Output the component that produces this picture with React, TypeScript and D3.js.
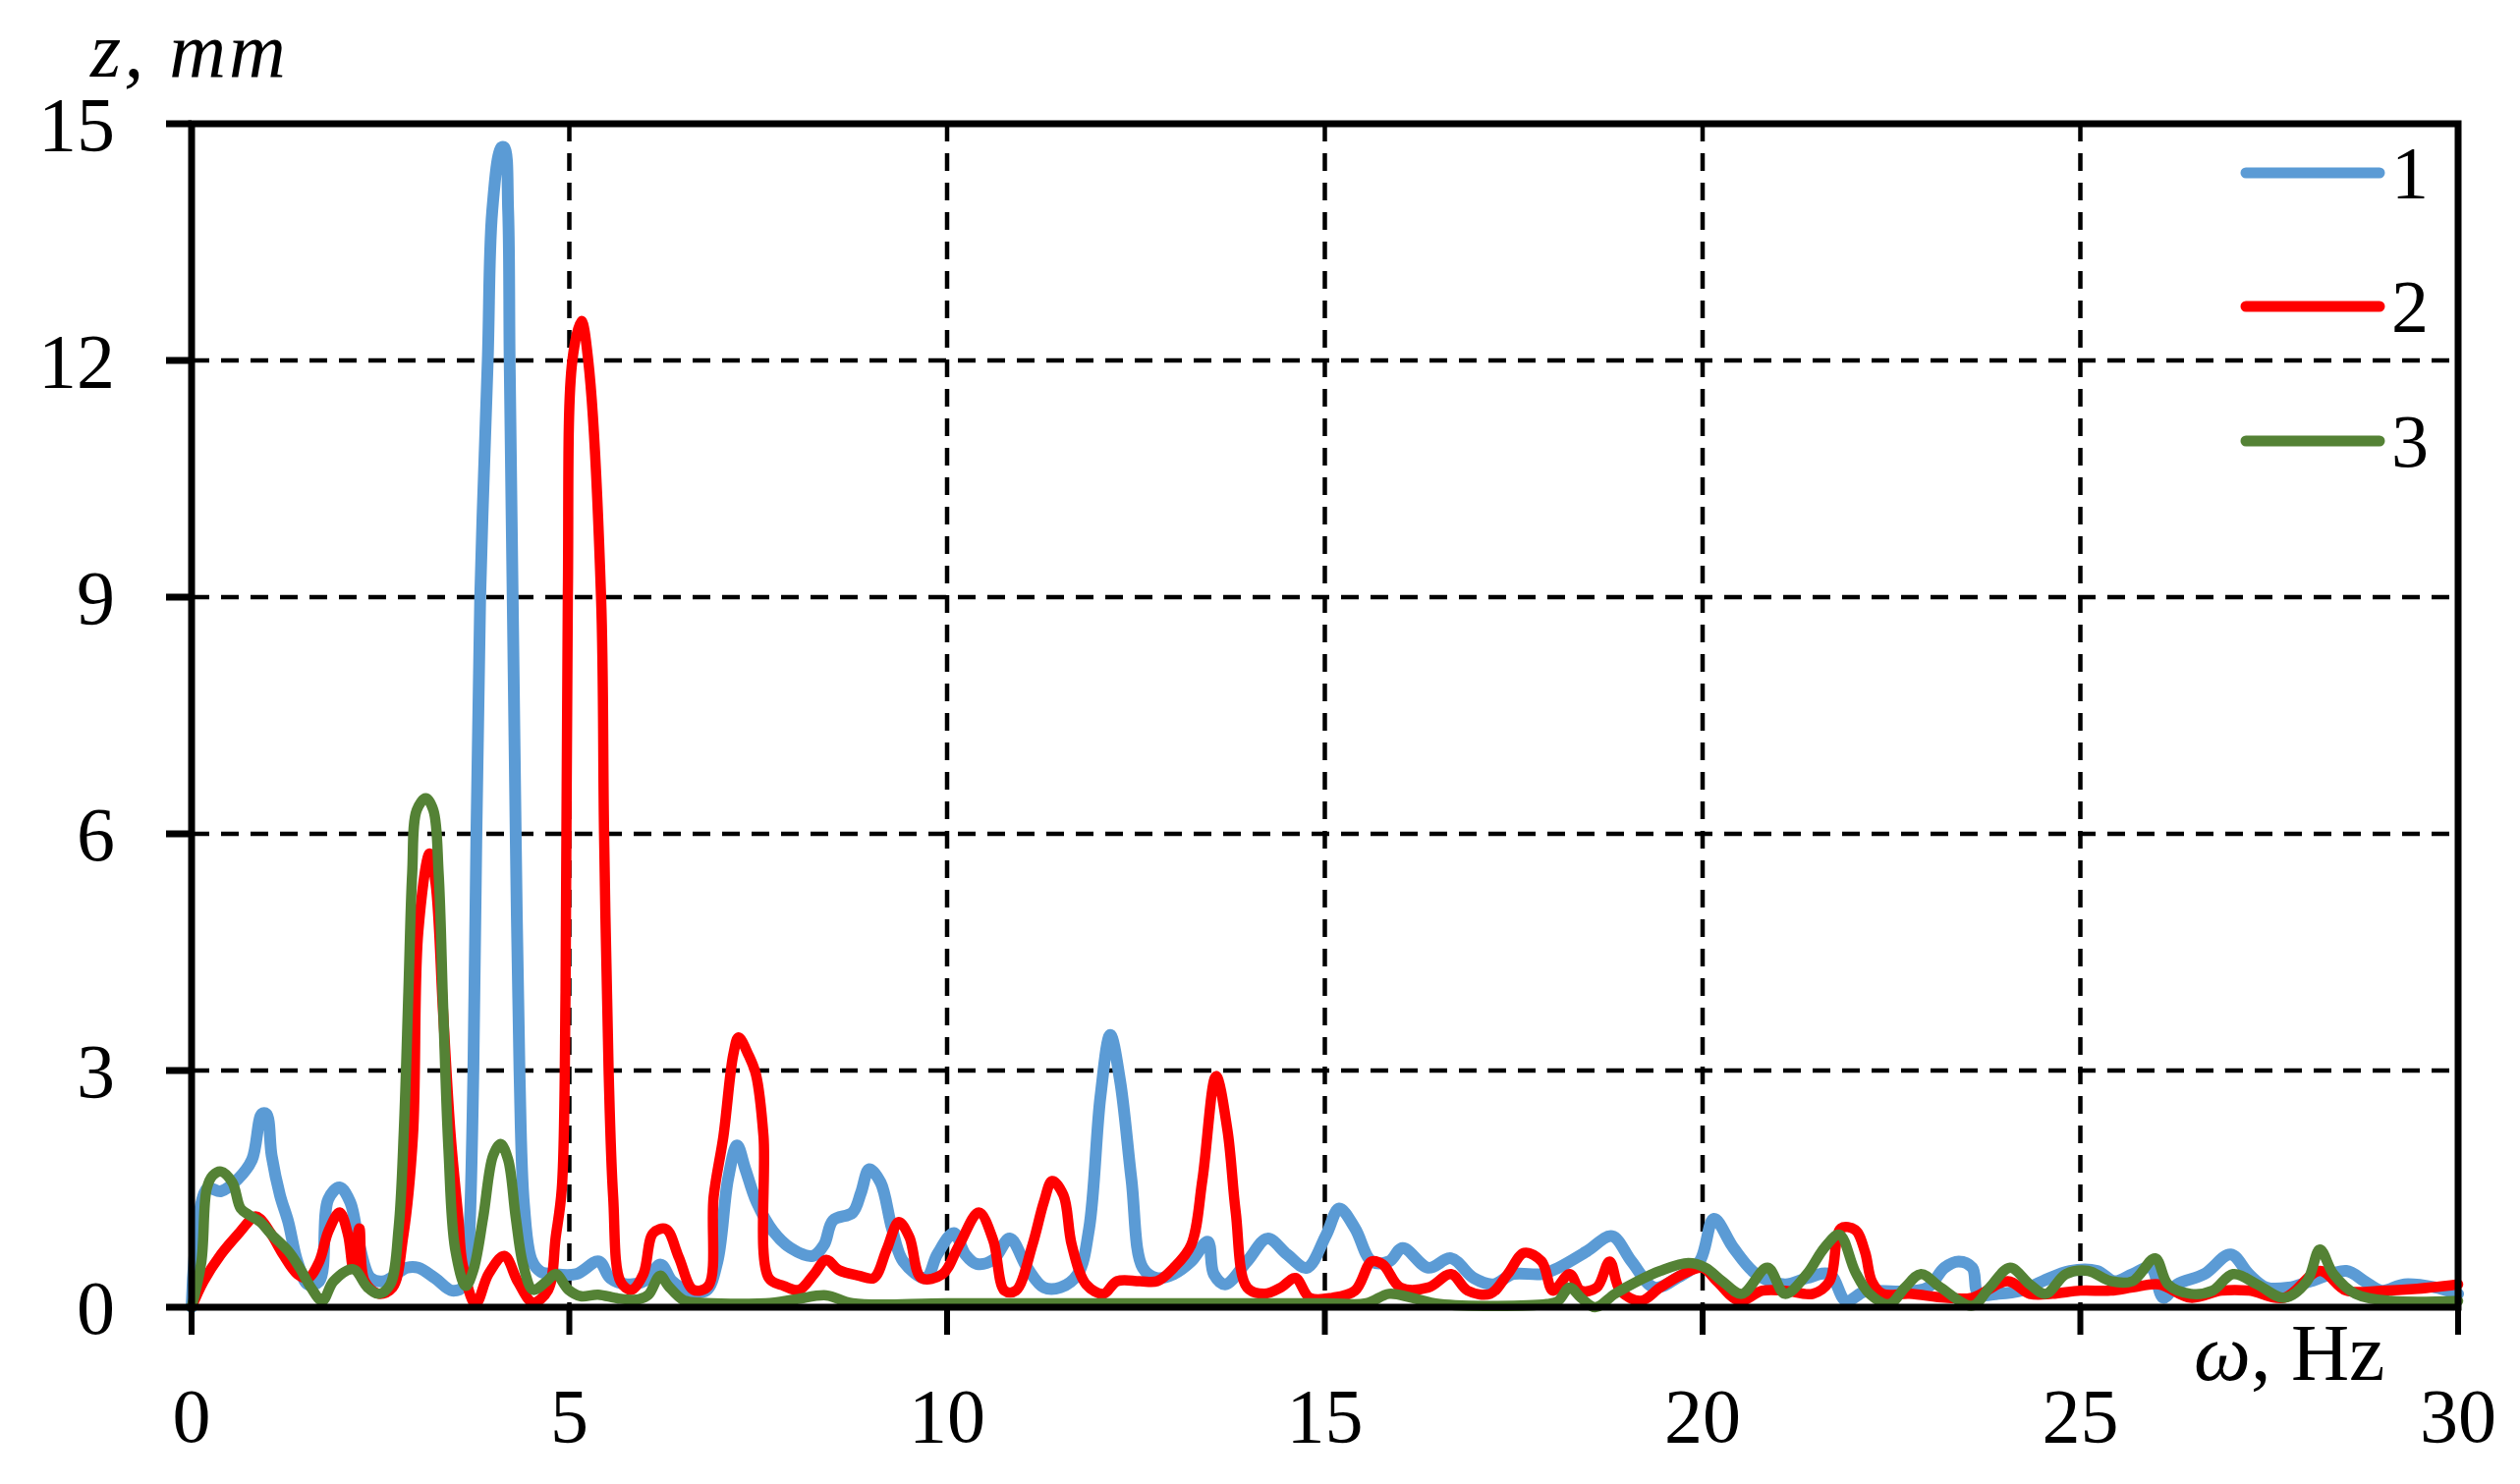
import React from "react";
import * as d3 from "d3";

// ---- data ----
const xTicks = [0, 5, 10, 15, 20, 25, 30];
const yTicks = [0, 3, 6, 9, 12, 15];
const seriesNames = ["1", "2", "3"];
const seriesColors = ["#5B9BD5", "#FF0000", "#548235"];

const s1x = [0,0.2,0.39,0.61,0.8,0.93,0.99,1.06,1.17,1.28,1.4,1.54,1.69,1.81,1.96,2.1,2.22,2.37,2.55,2.85,3.0,3.22,3.45,3.63,3.68,3.73,3.77,3.82,3.92,3.98,4.1,4.14,4.19,4.21,4.25,4.29,4.34,4.4,4.5,4.62,4.79,5.09,5.39,5.54,5.76,5.99,6.21,6.36,6.58,6.81,6.96,7.1,7.22,7.33,7.48,7.7,7.93,8.22,8.37,8.49,8.75,8.86,8.97,9.12,9.27,9.42,9.72,9.87,10.09,10.24,10.39,10.61,10.83,11.06,11.28,11.5,11.73,11.88,12.03,12.16,12.29,12.44,12.59,12.78,13.0,13.23,13.45,13.53,13.68,13.97,14.24,14.5,14.76,15.02,15.19,15.4,15.62,15.85,16.03,16.37,16.67,16.97,17.23,17.49,17.87,18.09,18.47,18.8,19.06,19.36,19.66,19.96,20.15,20.41,20.71,21.09,21.38,21.68,21.9,22.15,22.6,22.98,23.2,23.39,23.57,23.65,23.92,24.21,24.5,24.86,25.22,25.45,25.69,25.93,26.1,26.28,26.64,26.99,27.23,27.46,27.76,28.05,28.52,28.76,28.99,29.29,29.7,30];
const s1y = [0,1.5,1.47,1.62,1.87,2.45,2.45,1.92,1.42,1.08,0.58,0.29,0.33,1.37,1.52,1.33,0.79,0.37,0.33,0.5,0.5,0.37,0.21,0.29,1.0,3.0,6.0,9.0,12.0,13.9,14.7,14.7,13.9,12.0,9.0,6.0,3.0,1.3,0.6,0.45,0.42,0.42,0.58,0.37,0.29,0.33,0.54,0.33,0.21,0.21,0.58,1.62,2.05,1.75,1.33,0.96,0.75,0.65,0.79,1.1,1.2,1.45,1.75,1.58,1.0,0.58,0.37,0.67,0.94,0.67,0.55,0.6,0.87,0.5,0.25,0.25,0.42,1.0,2.67,3.45,2.87,1.62,0.5,0.37,0.42,0.58,0.83,0.42,0.29,0.58,0.87,0.67,0.5,0.92,1.25,1.0,0.58,0.58,0.75,0.5,0.62,0.37,0.29,0.42,0.42,0.5,0.71,0.9,0.58,0.25,0.37,0.58,1.12,0.75,0.42,0.29,0.37,0.42,0.08,0.2,0.2,0.25,0.5,0.58,0.5,0.17,0.17,0.21,0.33,0.46,0.46,0.33,0.42,0.5,0.12,0.29,0.42,0.67,0.42,0.25,0.25,0.33,0.46,0.33,0.21,0.29,0.25,0.17];

const s2x = [0,0.16,0.39,0.61,0.84,0.91,1.06,1.21,1.4,1.54,1.69,1.81,1.96,2.07,2.14,2.22,2.29,2.48,2.66,2.8,2.93,3.0,3.15,3.23,3.33,3.43,3.53,3.59,3.76,3.93,4.14,4.32,4.52,4.72,4.82,4.9,4.95,4.98,5.04,5.16,5.25,5.42,5.46,5.52,5.58,5.68,5.82,5.98,6.11,6.28,6.45,6.64,6.84,6.91,7.04,7.17,7.24,7.37,7.47,7.57,7.64,7.84,8.04,8.24,8.4,8.57,8.83,9.03,9.2,9.36,9.5,9.66,9.94,10.16,10.42,10.61,10.76,10.91,11.13,11.28,11.39,11.54,11.65,11.84,12.07,12.25,12.55,12.78,13.0,13.23,13.38,13.56,13.71,13.82,13.97,14.2,14.42,14.61,14.8,15.1,15.4,15.62,15.77,16.0,16.37,16.67,16.89,17.19,17.42,17.64,17.87,18.02,18.24,18.39,18.6,18.77,18.91,19.18,19.44,19.74,20.0,20.19,20.49,20.79,21.09,21.46,21.68,21.83,22.02,22.15,22.24,22.38,22.74,23.21,23.57,24.04,24.33,24.63,25.0,25.4,25.69,26.04,26.46,26.87,27.23,27.7,28.17,28.52,28.99,29.41,30];
const s2y = [0,0.33,0.67,0.92,1.15,1.12,0.92,0.67,0.42,0.37,0.58,0.96,1.2,0.92,0.5,1.0,0.33,0.17,0.25,0.89,2.17,4.75,5.75,5.37,3.72,2.17,1.14,0.53,0.04,0.42,0.65,0.32,0.06,0.22,0.89,1.5,4.0,9.0,12.0,12.5,12.0,9.0,6.0,3.0,1.4,0.32,0.22,0.42,0.94,0.99,0.63,0.22,0.27,1.4,2.17,3.2,3.42,3.2,2.95,2.17,0.37,0.27,0.22,0.42,0.6,0.47,0.4,0.37,0.73,1.08,0.89,0.37,0.42,0.79,1.2,0.85,0.21,0.21,0.79,1.33,1.6,1.42,0.79,0.29,0.17,0.33,0.33,0.33,0.5,0.79,1.62,2.93,2.25,1.21,0.25,0.17,0.25,0.37,0.12,0.12,0.21,0.58,0.54,0.25,0.25,0.42,0.21,0.17,0.42,0.69,0.58,0.21,0.42,0.21,0.25,0.58,0.21,0.08,0.25,0.42,0.5,0.33,0.08,0.21,0.21,0.17,0.33,1.0,0.98,0.7,0.33,0.17,0.17,0.12,0.12,0.33,0.17,0.17,0.21,0.21,0.25,0.29,0.12,0.21,0.21,0.12,0.46,0.21,0.21,0.23,0.29];

const s3x = [0,0.13,0.2,0.28,0.39,0.54,0.65,0.76,0.91,1.06,1.28,1.43,1.58,1.73,1.88,2.14,2.33,2.48,2.63,2.74,2.81,2.87,2.92,2.98,3.1,3.2,3.27,3.33,3.4,3.49,3.63,3.73,3.86,3.99,4.09,4.19,4.29,4.39,4.52,4.69,4.82,4.99,5.15,5.38,5.65,5.92,6.05,6.2,6.31,6.51,6.71,7.6,8.0,8.4,8.75,10,12,15,15.55,15.85,16.15,16.52,17.94,18.09,18.24,18.39,18.58,18.84,19.14,19.44,19.81,20.04,20.26,20.52,20.86,21.09,21.38,21.61,21.81,22.02,22.21,22.47,22.68,22.89,23.15,23.57,23.8,24.07,24.33,24.54,24.81,25.1,25.4,25.69,25.99,26.16,26.46,26.75,27.02,27.34,27.7,28.0,28.17,28.35,28.64,29.11,30];
const s3y = [0,0.58,1.5,1.67,1.72,1.58,1.25,1.17,1.08,0.92,0.71,0.5,0.25,0.08,0.33,0.48,0.25,0.17,0.29,1.0,2.25,4.0,5.5,6.3,6.45,6.3,5.5,3.8,2.0,0.73,0.27,0.47,1.14,1.92,2.07,1.87,1.14,0.53,0.22,0.32,0.42,0.22,0.14,0.16,0.11,0.1,0.16,0.4,0.27,0.09,0.06,0.05,0.1,0.15,0.05,0.05,0.05,0.05,0.05,0.17,0.12,0.04,0.04,0.08,0.25,0.12,0.0,0.17,0.33,0.46,0.56,0.5,0.33,0.17,0.5,0.17,0.42,0.75,0.92,0.45,0.17,0.04,0.25,0.42,0.25,0.02,0.25,0.5,0.29,0.17,0.42,0.46,0.33,0.33,0.62,0.29,0.17,0.21,0.42,0.29,0.12,0.33,0.73,0.42,0.17,0.08,0.08];

const seriesX = [s1x, s2x, s3x];
const seriesY = [s1y, s2y, s3y];

// ---- layout ----
const W = 2565, H = 1511;
const left = 195, right = 2502, top = 126, bottom = 1331;
const FONT = "'Palatino Linotype','Book Antiqua','Liberation Serif',serif";
const lineWidths = [12, 10.5, 10.5];

export default function App() {
  const x = d3.scaleLinear().domain([0, 30]).range([left, right]);
  const y = d3.scaleLinear().domain([0, 15]).range([bottom, top]);
  const line = d3
    .line<[number, number]>()
    .x((d) => x(d[0]))
    .y((d) => y(d[1]))
    .curve(d3.curveCatmullRom.alpha(0.5));

  const legendY = [176, 312, 449];

  return (
    <svg
      width={W}
      height={H}
      style={{ position: "fixed", left: 0, top: 0, background: "#fff" }}
      fontFamily={FONT}
    >
      <rect x={0} y={0} width={W} height={H} fill="#fff" />
      {/* grid */}
      {yTicks.filter((t) => t > 0 && t < 15).map((t) => (
        <line key={"gy" + t} x1={left} x2={right} y1={y(t)} y2={y(t)} stroke="#000" strokeWidth={4.5} strokeDasharray="18 12" />
      ))}
      {xTicks.filter((t) => t > 0 && t < 30).map((t) => (
        <line key={"gx" + t} x1={x(t)} x2={x(t)} y1={top} y2={bottom} stroke="#000" strokeWidth={4.5} strokeDasharray="18 12" />
      ))}
      {/* series */}
      {seriesX.map((xs, i) => {
        const pts = xs.map((v, k) => [v, seriesY[i][k]] as [number, number]);
        return (
          <path key={"s" + i} d={line(pts) || ""} fill="none" stroke={seriesColors[i]} strokeWidth={lineWidths[i]} strokeLinejoin="round" strokeLinecap="round" />
        );
      })}
      {/* frame */}
      <rect x={left} y={top} width={right - left} height={bottom - top} fill="none" stroke="#000" strokeWidth={7} />
      {/* ticks */}
      {yTicks.map((t) => (
        <line key={"ty" + t} x1={left - 26} x2={left} y1={y(t)} y2={y(t)} stroke="#000" strokeWidth={7} />
      ))}
      {xTicks.map((t) => (
        <line key={"tx" + t} x1={x(t)} x2={x(t)} y1={bottom} y2={bottom + 28} stroke="#000" strokeWidth={6} />
      ))}
      {/* tick labels */}
      {yTicks.map((t) => (
        <text key={"ly" + t} x={117} y={y(t)} dy="0.34em" textAnchor="end" fontSize={78} fill="#000">
          {t}
        </text>
      ))}
      {xTicks.map((t) => (
        <text key={"lx" + t} x={x(t)} y={1468} textAnchor="middle" fontSize={78} fill="#000">
          {t}
        </text>
      ))}
      {/* axis titles */}
      <text x={92} y={78} fontSize={80} fontStyle="italic" letterSpacing={3} fill="#000">
        z, mm
      </text>
      <text x={2233} y={1405} fontSize={82} fill="#000">
        <tspan fontStyle="italic">ω</tspan>, Hz
      </text>
      {/* legend */}
      {seriesNames.map((n, i) => (
        <g key={"lg" + i}>
          <line x1={2286} x2={2422} y1={legendY[i]} y2={legendY[i]} stroke={seriesColors[i]} strokeWidth={11} strokeLinecap="round" />
          <text x={2434} y={legendY[i]} dy="0.34em" fontSize={76} fill="#000">
            {n}
          </text>
        </g>
      ))}
    </svg>
  );
}
